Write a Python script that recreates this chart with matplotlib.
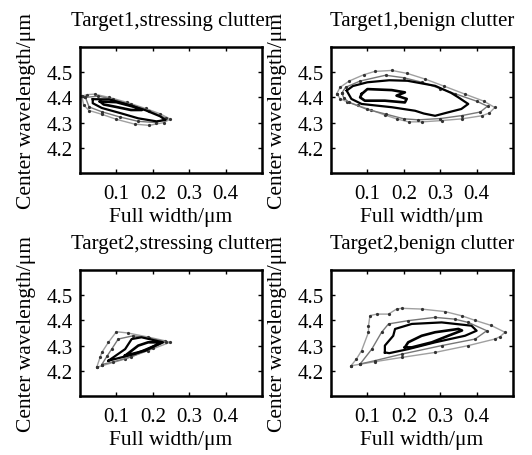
import matplotlib
matplotlib.use("Agg")
import matplotlib.pyplot as plt

# contour outlines (full width in um, center wavelength in um), outermost level first
t1_stress_lvl1 = [(0.005, 4.405), (0.02, 4.411), (0.04, 4.413), (0.08, 4.40), (0.13, 4.38),
                  (0.18, 4.356), (0.22, 4.335), (0.248, 4.314), (0.23, 4.300), (0.19, 4.289),
                  (0.15, 4.294), (0.10, 4.313), (0.06, 4.333), (0.025, 4.348), (0.01, 4.37),
                  (0.005, 4.405)]
t1_stress_lvl2 = [(0.015, 4.400), (0.05, 4.405), (0.09, 4.393), (0.14, 4.372), (0.19, 4.348),
                  (0.235, 4.318), (0.21, 4.300), (0.16, 4.305), (0.11, 4.322), (0.06, 4.343),
                  (0.025, 4.362), (0.015, 4.400)]
t1_stress_lvl3 = [(0.035, 4.393), (0.08, 4.392), (0.13, 4.372), (0.18, 4.349), (0.22, 4.325),
                  (0.235, 4.310), (0.21, 4.305), (0.16, 4.317), (0.11, 4.338), (0.06, 4.358),
                  (0.035, 4.377), (0.035, 4.393)]
t1_stress_lvl4 = [(0.055, 4.384), (0.10, 4.381), (0.15, 4.362), (0.17, 4.350), (0.14, 4.350),
                  (0.10, 4.362), (0.065, 4.372), (0.055, 4.384)]

t1_benign_lvl1 = [(0.016, 4.415), (0.025, 4.44), (0.05, 4.465), (0.09, 4.49), (0.12, 4.503),
                  (0.167, 4.507), (0.21, 4.495), (0.258, 4.473), (0.31, 4.445), (0.368, 4.413),
                  (0.42, 4.385), (0.45, 4.36), (0.435, 4.338), (0.414, 4.327), (0.36, 4.315),
                  (0.304, 4.308), (0.25, 4.303), (0.213, 4.303), (0.18, 4.315), (0.148, 4.330),
                  (0.11, 4.35), (0.074, 4.368), (0.045, 4.382), (0.025, 4.395), (0.016, 4.415)]
t1_benign_lvl2 = [(0.03, 4.418), (0.04, 4.44), (0.08, 4.465), (0.15, 4.488), (0.20, 4.478),
                  (0.25, 4.460), (0.30, 4.435), (0.34, 4.415), (0.40, 4.385), (0.43, 4.365),
                  (0.41, 4.342), (0.36, 4.328), (0.30, 4.316), (0.24, 4.311), (0.20, 4.315),
                  (0.15, 4.334), (0.10, 4.352), (0.05, 4.380), (0.035, 4.398), (0.03, 4.418)]
t1_benign_lvl3 = [(0.043, 4.427), (0.06, 4.445), (0.10, 4.46), (0.16, 4.468), (0.21, 4.466),
                  (0.286, 4.446), (0.33, 4.418), (0.35, 4.40), (0.377, 4.374), (0.358, 4.354),
                  (0.32, 4.340), (0.286, 4.327), (0.255, 4.336), (0.231, 4.347), (0.167, 4.361),
                  (0.084, 4.374), (0.056, 4.394), (0.043, 4.427)]
t1_benign_lvl4 = [(0.084, 4.413), (0.10, 4.433), (0.167, 4.429), (0.203, 4.42), (0.18, 4.407),
                  (0.208, 4.394), (0.203, 4.38), (0.148, 4.387), (0.093, 4.387), (0.08, 4.40),
                  (0.084, 4.413)]

t2_stress_lvl1 = [(0.046, 4.214), (0.055, 4.253), (0.06, 4.273), (0.078, 4.313), (0.10, 4.355),
                  (0.132, 4.350), (0.187, 4.334), (0.234, 4.319), (0.247, 4.313), (0.187, 4.280),
                  (0.124, 4.247), (0.046, 4.214)]
t2_stress_lvl2 = [(0.06, 4.225), (0.075, 4.26), (0.087, 4.286), (0.105, 4.326), (0.146, 4.339),
                  (0.19, 4.330), (0.235, 4.316), (0.20, 4.290), (0.14, 4.255), (0.09, 4.235),
                  (0.06, 4.225)]
t2_stress_lvl3 = [(0.078, 4.240), (0.124, 4.286), (0.142, 4.326), (0.169, 4.333), (0.228, 4.313),
                  (0.151, 4.267), (0.078, 4.240)]
t2_stress_lvl4 = [(0.124, 4.260), (0.16, 4.300), (0.187, 4.313), (0.224, 4.313), (0.179, 4.280),
                  (0.124, 4.260)]

t2_benign_lvl1 = [(0.055, 4.220), (0.07, 4.247), (0.084, 4.28), (0.103, 4.353), (0.103, 4.379),
                  (0.107, 4.419), (0.126, 4.425), (0.158, 4.425), (0.18, 4.445), (0.194, 4.448),
                  (0.249, 4.445), (0.313, 4.435), (0.36, 4.418), (0.396, 4.40), (0.44, 4.38),
                  (0.478, 4.353), (0.465, 4.336), (0.45, 4.326), (0.377, 4.30), (0.286, 4.273),
                  (0.194, 4.253), (0.12, 4.236), (0.055, 4.220)]
t2_benign_lvl2 = [(0.08, 4.227), (0.112, 4.286), (0.139, 4.353), (0.158, 4.386), (0.212, 4.399),
                  (0.286, 4.412), (0.34, 4.405), (0.377, 4.392), (0.428, 4.359), (0.396, 4.326),
                  (0.304, 4.30), (0.194, 4.266), (0.12, 4.24), (0.08, 4.227)]
t2_benign_lvl3 = [(0.148, 4.273), (0.148, 4.30), (0.171, 4.339), (0.176, 4.366), (0.222, 4.386),
                  (0.304, 4.392), (0.386, 4.379), (0.40, 4.359), (0.368, 4.339), (0.286, 4.313),
                  (0.212, 4.286), (0.16, 4.27), (0.148, 4.273)]
t2_benign_lvl4 = [(0.203, 4.293), (0.212, 4.313), (0.249, 4.339), (0.286, 4.353), (0.35, 4.366),
                  (0.36, 4.36), (0.322, 4.339), (0.277, 4.313), (0.222, 4.293), (0.203, 4.293)]

titles = ["Target1,stressing clutter", "Target1,benign clutter",
          "Target2,stressing clutter", "Target2,benign clutter"]
panels = [
    [t1_stress_lvl1, t1_stress_lvl2, t1_stress_lvl3, t1_stress_lvl4],
    [t1_benign_lvl1, t1_benign_lvl2, t1_benign_lvl3, t1_benign_lvl4],
    [t2_stress_lvl1, t2_stress_lvl2, t2_stress_lvl3, t2_stress_lvl4],
    [t2_benign_lvl1, t2_benign_lvl2, t2_benign_lvl3, t2_benign_lvl4],
]
x_ticks = [0.1, 0.2, 0.3, 0.4]
y_ticks = [4.2, 4.3, 4.4, 4.5]

level_colors = ["#a0a0a0", "#777777", "#000000", "#000000"]
level_widths = [1.0, 1.0, 1.6, 1.9]

plt.rcParams["font.family"] = ["Liberation Serif", "DejaVu Serif"]

fig = plt.figure(figsize=(5.32, 4.56), dpi=100)
W, H = 532.0, 456.0
boxes = [(80, 48), (331, 48), (80, 271), (331, 271)]

for (left, top), title, levels in zip(boxes, titles, panels):
    ax = fig.add_axes([left / W, 1 - (top + 126) / H, 182 / W, 126 / H])
    for i, pts in enumerate(levels):
        xs = [p[0] for p in pts]
        ys = [p[1] for p in pts]
        ax.plot(xs, ys, color=level_colors[i], lw=level_widths[i], solid_joinstyle="round")
        if i < 2:
            ax.plot(xs, ys, ls="none", marker="o", ms=1.3, color="#333333")
    ax.set_xlim(0, 0.5)
    ax.set_ylim(4.1, 4.6)
    ax.set_xticks(x_ticks)
    ax.set_yticks(y_ticks)
    ax.set_xticklabels([f"{v:.1f}" for v in x_ticks])
    ax.set_yticklabels([f"{v:.1f}" for v in y_ticks])
    ax.tick_params(axis="both", direction="in", length=3, width=1, top=True, right=True,
                   labelsize=15)
    ax.tick_params(axis="x", pad=8)
    ax.tick_params(axis="y", pad=5)
    for s in ax.spines.values():
        s.set_linewidth(1.8)
    ax.set_title(title, fontsize=15, pad=16)
    ax.set_xlabel("Full width/μm", fontsize=15.5, labelpad=3)
    ax.set_ylabel("Center wavelength/μm", fontsize=15.5, labelpad=8)

fig.savefig("out.png", dpi=100)
